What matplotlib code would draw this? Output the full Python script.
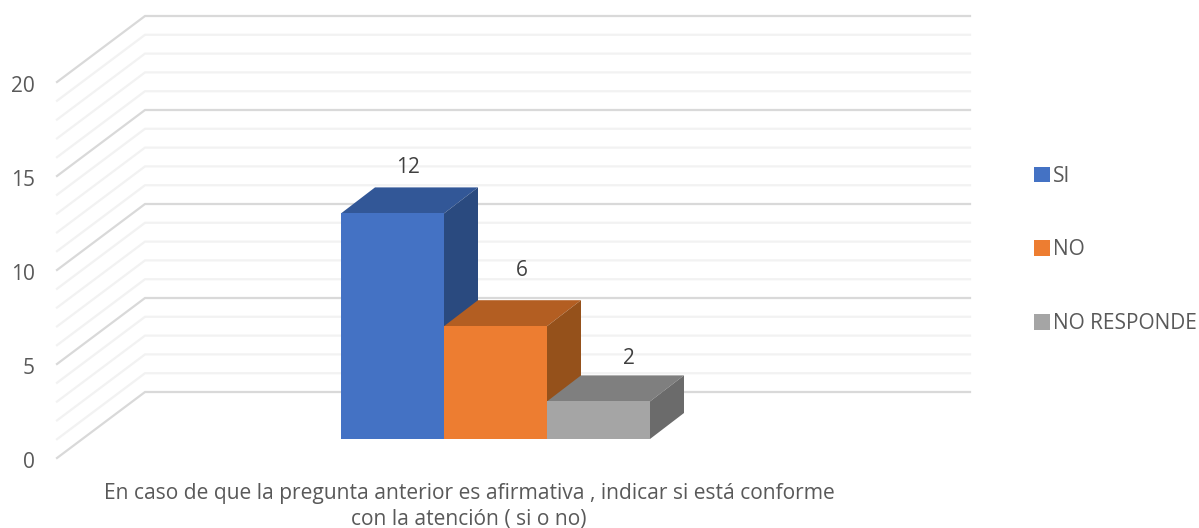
import matplotlib
matplotlib.use("Agg")
import matplotlib.pyplot as plt
from matplotlib.patches import Polygon, Patch
from matplotlib.transforms import ScaledTranslation

plt.rcParams['font.family'] = ['Open Sans', 'DejaVu Sans']

series = ["SI", "NO", "NO RESPONDE"]
values = [12, 6, 2]
y_ticks = [0, 5, 10, 15, 20]
category = "En caso de que la pregunta anterior es afirmativa , indicar si está conforme\ncon la atención ( si o no)"
front_colors = ["#4472C4", "#ED7D31", "#A5A5A5"]
top_colors = ["#325797", "#B35E22", "#7F7F7F"]
side_colors = ["#2A4A7F", "#95511B", "#6B6B6B"]
label_shift_px = [(16, 46), (26, 56), (30, 43)]

W, H = 1199, 528
fig = plt.figure(figsize=(W / 100, H / 100), dpi=100)
left, right, bottom_px, top_px = 57, 970, 458, 16
ax = fig.add_axes([left / W, 1 - bottom_px / H, (right - left) / W, (bottom_px - top_px) / H])

unit_x, unit_y = 103.0, 18.8          # pixels per bar width / per value
ax.set_xlim((left - 341) / unit_x, (right - 341) / unit_x)
ax.set_ylim(0, (bottom_px - top_px) / unit_y)

wall_dx, wall_dy = 88 / unit_x, 66 / unit_y      # depth of the floor
bar_dx, bar_dy = 34 / unit_x, 26 / unit_y        # depth of each bar
base_y = 19 / unit_y                             # bar base above the front edge
x_min = ax.get_xlim()[0]
x_max = ax.get_xlim()[1]

for k in range(0, 21):
    major = k % 5 == 0
    c, lw, z = ("#D9D9D9", 1.6, 2) if major else ("#F2F2F2", 1.6, 1)
    ax.plot([x_min, x_min + wall_dx, x_max], [k, k + wall_dy, k + wall_dy],
            color=c, lw=lw, zorder=z, clip_on=False, solid_joinstyle="miter")

for i, v in enumerate(values):
    y0, y1 = base_y, base_y + v
    x0, x1 = i, i + 1
    ax.add_patch(Polygon([(x0, y1), (x1, y1), (x1 + bar_dx, y1 + bar_dy), (x0 + bar_dx, y1 + bar_dy)],
                         closed=True, fc=top_colors[i], ec="none", zorder=5))
    ax.add_patch(Polygon([(x1, y0), (x1 + bar_dx, y0 + bar_dy), (x1 + bar_dx, y1 + bar_dy), (x1, y1)],
                         closed=True, fc=side_colors[i], ec="none", zorder=5))
    ax.bar(x0, v, width=1, bottom=y0, align="edge", color=front_colors[i], zorder=6)
    sx, sy = label_shift_px[i]
    ax.annotate(str(v), xy=(i + 0.5, y1), xytext=(sx * 0.72, sy * 0.72), textcoords="offset points",
                ha="center", va="center", fontsize=15, color="#404040", zorder=7)

for s in ax.spines.values():
    s.set_visible(False)
ax.patch.set_alpha(0)
ax.set_yticks(y_ticks)
ax.tick_params(axis="y", length=0, pad=16, labelsize=15, labelcolor="#595959")
shift = ScaledTranslation(0, -2.5 / 100, fig.dpi_scale_trans)
for lab in ax.get_yticklabels():
    lab.set_transform(lab.get_transform() + shift)
ax.set_xticks([(469 - 341) / unit_x])
ax.set_xticklabels([category], fontsize=15.1, color="#595959", linespacing=1.32)
ax.tick_params(axis="x", length=0, pad=18)

handles = [Patch(fc=c, ec="none") for c in front_colors]
fig.legend(handles, series, loc="center left", bbox_to_anchor=(1034 / W, 1 - 250 / H),
           frameon=False, fontsize=15, labelcolor="#595959", handlelength=0.77, handleheight=0.77,
           handletextpad=0.15, labelspacing=2.53, borderpad=0, borderaxespad=0)

fig.savefig("out.png", dpi=100, facecolor="white")
